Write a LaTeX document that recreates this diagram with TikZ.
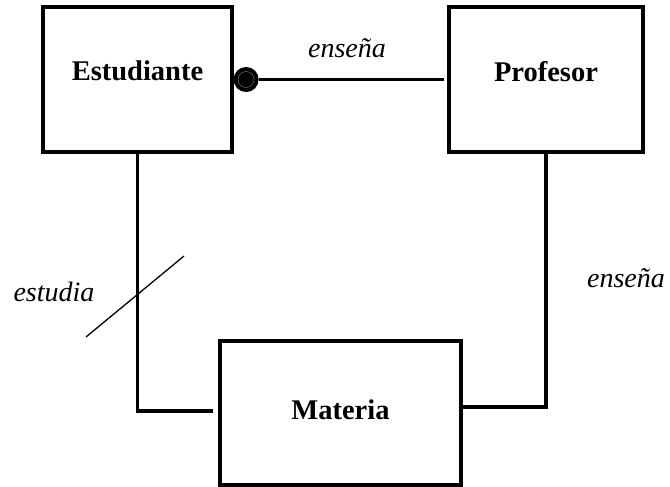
\documentclass[tikz,border=0pt]{standalone}
\usepackage{fontspec}
\setmainfont{Liberation Serif}
\usetikzlibrary{positioning}

\begin{document}
\begin{tikzpicture}[x=1pt,y=-1pt,
    every node/.style={font=\fontsize{28}{32}\selectfont},
    entity/.style={draw,line width=3.2pt,font=\fontsize{28.5}{32}\selectfont\bfseries},
    link/.style={line width=3.2pt},
    rel/.style={font=\fontsize{28}{32}\selectfont\itshape},
    dot/.style={circle,fill=black,draw=black,line width=1pt,minimum size=24pt,inner sep=0pt}]
  \useasboundingbox (0,0) rectangle (670,487);
  % entities
  \node[entity,minimum width=189pt,minimum height=145pt,text depth=17pt] (est) at (137.5,79.5) {Estudiante};
  \node[entity,minimum width=194pt,minimum height=145pt,text depth=17pt] (prof) at (546,79.5) {Profesor};
  \node[entity,minimum width=241pt,minimum height=144pt,text depth=6pt] (mat) at (340.5,413) {Materia};
  % relations
  \node[dot,right=0pt of est] (dot) {};
  \draw[gray,line width=0.4pt] (dot.center) circle (8pt);
  \draw[link] (dot) -- ([xshift=-3pt]prof.west);
  \draw[link,shorten >=5pt] (est.south) |- ([yshift=2pt]mat.west);
  \draw[link] (prof.south) |- ([yshift=6pt]mat.east);
  \draw[line width=1.3pt] (86,337) -- (184,256);
  % labels
  \node[rel] (l1) at (347,48) {enseña};
  \node[rel] (l2) at (54,292) {estudia};
  \node[rel] (l3) at (626,278) {enseña};
\end{tikzpicture}
\end{document}
